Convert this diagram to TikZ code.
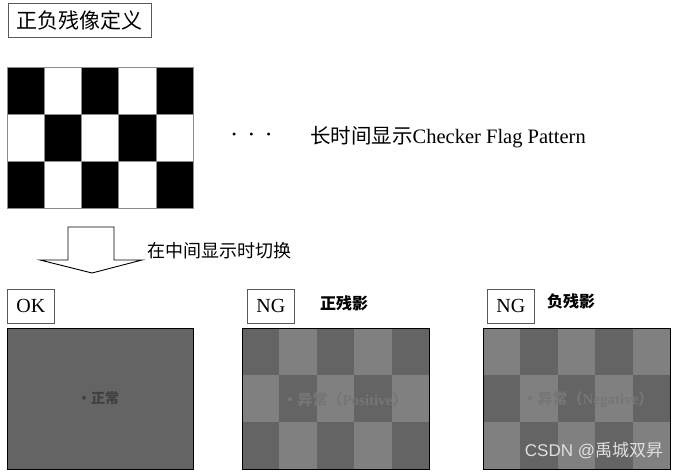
\documentclass[tikz,border=0pt]{standalone}
\usepackage{fontspec}
\setmainfont{Liberation Serif}
\setsansfont{Liberation Sans}
\newfontfamily\cjk{Noto Sans CJK SC}
\definecolor{darkcell}{RGB}{100,100,100}
\definecolor{lightcell}{RGB}{128,128,128}
\definecolor{ghosttext}{RGB}{118,118,118}
\begin{document}
\begin{tikzpicture}[x=1pt, y=-1pt,
    labelbox/.style={draw=black!65, fill=white, line width=0.8pt, inner sep=0pt,
      minimum width=47pt, minimum height=34pt, anchor=north west,
      font=\fontsize{20}{20}\selectfont},
    frame/.style={draw=black, line width=1.4pt, inner sep=0pt, anchor=north west,
      minimum width=186pt, minimum height=141pt},
    note/.style={inner sep=0pt, anchor=west},
    ghost/.style={inner sep=0pt, font=\fontsize{15}{15}\selectfont\bfseries}]
        \useasboundingbox (0,0) rectangle (678,472);

        % Title
        \node[labelbox, minimum width=143pt, font=\cjk\fontsize{21}{21}\selectfont] (title) at (8,3) {正负残像定义};

        % Black and white checker flag
        \foreach \c in {0,...,4}
          \foreach \r in {0,...,2} {
            \pgfmathparse{mod(\c+\r,2)==0 ? "black" : "white"}
            \let\cellcol\pgfmathresult
            \filldraw[fill=\cellcol, draw=black!45, line width=0.6pt]
              ({7+37.2*\c},{67+47*\r}) rectangle ++(37.2,47);
          }
        \coordinate (flag) at (193,137);
        \node[note, font=\fontsize{12}{12}\selectfont] (dots) at (232,136) {\textbullet\hspace{13pt}\textbullet\hspace{13pt}\textbullet};
        \node[note, font=\fontsize{20.5}{20.5}\selectfont] (longtext) at (310,137) {{\cjk 长时间显示}Checker Flag Pattern};

        % Switching arrow
        \draw[fill=white, line width=0.9pt, line join=miter]
          (68,227) -- (114,227) -- (114,260) -- (142,260) -- (92,273) -- (40,260) -- (68,260) -- cycle;
        \node[note, font=\cjk\fontsize{18}{18}\selectfont] (switch) at (147,251) {在中间显示时切换};

        % OK panel
        \node[labelbox] (ok) at (7,289) {OK};
        \node[frame, fill=darkcell] (okpanel) at (7,328) {};
        \node[ghost, text=black!75, font=\cjk\fontsize{14}{14}\selectfont\bfseries] (oktext) at (98,398) {・正常};

        % NG panel, positive image sticking
        \node[labelbox] (ngpos) at (247,289) {NG};
        \node[note, font=\cjk\fontsize{16}{16}\selectfont\bfseries] (postitle) at (320,303) {正残影};
        \foreach \c in {0,...,4}
          \foreach \r in {0,...,2} {
            \pgfmathparse{mod(\c+\r,2)==0 ? "darkcell" : "lightcell"}
            \let\cellcol\pgfmathresult
            \fill[\cellcol] ({242+37.4*\c},{328+47*\r}) rectangle ++(37.4,47);
          }
        \node[frame, minimum width=187pt] (pospanel) at (242,328) {};
        \node[ghost, text=ghosttext] (postext) at (345,400) {{\cjk ・异常（}Positive{\cjk ）}};

        % NG panel, negative image sticking
        \node[labelbox] (ngneg) at (487,289) {NG};
        \node[note, font=\cjk\fontsize{16}{16}\selectfont\bfseries] (negtitle) at (547,301) {负残影};
        \foreach \c in {0,...,4}
          \foreach \r in {0,...,2} {
            \pgfmathparse{mod(\c+\r,2)==0 ? "lightcell" : "darkcell"}
            \let\cellcol\pgfmathresult
            \fill[\cellcol] ({483+37.4*\c},{328+47*\r}) rectangle ++(37.4,47);
          }
        \node[frame, minimum width=187pt] (negpanel) at (483,328) {};
        \node[ghost, text=ghosttext] (negtext) at (588,400) {{\cjk ・异常（}Negative{\cjk ）}};

        % Watermark
        \node[inner sep=0pt, text=white!88!black, font=\sffamily\fontsize{17}{17}\selectfont] (mark) at (594,451) {CSDN @{\cjk 禹城双昇}};
\end{tikzpicture}
\end{document}
